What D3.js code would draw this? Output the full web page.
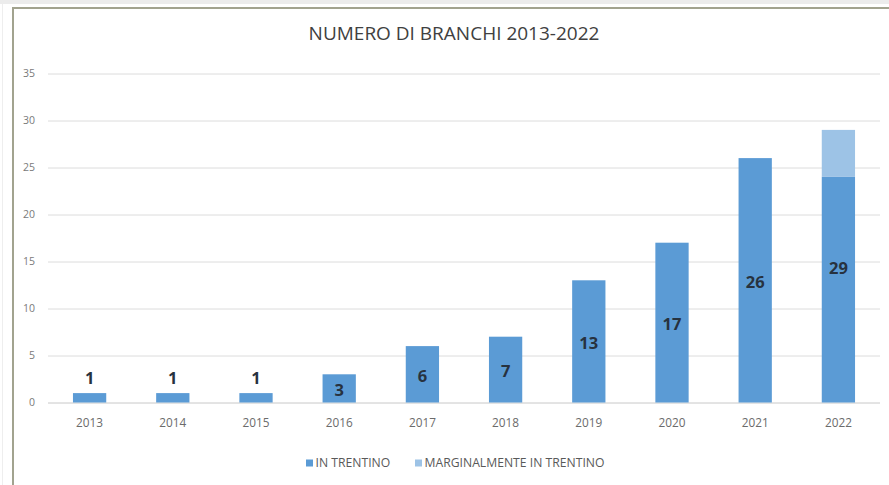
<!DOCTYPE html>
<html>
<head>
<meta charset="utf-8">
<script src="https://cdn.jsdelivr.net/npm/d3@7"></script>
<style>
  html, body { margin: 0; padding: 0; background: #ffffff; }
  svg { display: block; }
</style>
</head>
<body>
<script>
// Wolf packs per year, split by where the pack lives
const years = ["2013","2014","2015","2016","2017","2018","2019","2020","2021","2022"];
const inTrentino = [1, 1, 1, 3, 6, 7, 13, 17, 26, 24];
const marginal   = [0, 0, 0, 0, 0, 0, 0, 0, 0, 5];
const totals     = [1, 1, 1, 3, 6, 7, 13, 17, 26, 29];
const yTicks = [0, 5, 10, 15, 20, 25, 30, 35];
const seriesNames = ["IN TRENTINO", "MARGINALMENTE IN TRENTINO"];
const seriesColors = ["#5b9bd5", "#9dc3e6"];

const W = 889, H = 485;
const svg = d3.select("body").append("svg").attr("width", W).attr("height", H);

// page strip and chart frame
svg.append("rect").attr("x", 0).attr("y", 0).attr("width", W).attr("height", 4).attr("fill", "#ececec");
svg.append("line").attr("x1", 2.5).attr("x2", 2.5).attr("y1", 4).attr("y2", H).attr("stroke", "#eeeeee");
svg.append("rect").attr("x", 13).attr("y", 8).attr("width", W + 20).attr("height", H + 20)
  .attr("fill", "#ffffff").attr("stroke", "#a2a38f").attr("stroke-width", 2);

const plot = { left: 48, right: 880, top: 73.5, bottom: 402.5 };

const x = d3.scaleBand().domain(years).range([plot.left, plot.right]).paddingInner(0.6).paddingOuter(0.3);
const y = d3.scaleLinear().domain([0, 35]).range([plot.bottom, plot.top]);

// title
svg.append("text").attr("x", 454).attr("y", 39.5).attr("text-anchor", "middle")
  .attr("font-family", "Open Sans").attr("font-size", 19).attr("fill", "#404040")
  .text("NUMERO DI BRANCHI 2013-2022");

// gridlines
const yAxis = d3.axisLeft(y).tickValues(yTicks).tickSize(-(plot.right - plot.left)).tickPadding(13).tickFormat(d3.format("d"));
const gy = svg.append("g").attr("transform", `translate(${plot.left},0)`).call(yAxis);
gy.select(".domain").remove();
gy.selectAll(".tick line").attr("stroke-width", 1)
  .attr("stroke", d => d === 0 ? "#c8c8c8" : "#dcdcdc");
gy.selectAll(".tick text").attr("font-family", "Open Sans").attr("font-size", 10.5).attr("fill", "#7a7a7a");

// stacked bars
const stackData = years.map((yr, i) => ({ year: yr, a: inTrentino[i], b: marginal[i] }));
const stacked = d3.stack().keys(["a", "b"])(stackData);
svg.append("g").selectAll("g").data(stacked).join("g")
  .attr("fill", (d, i) => seriesColors[i])
  .selectAll("rect").data(d => d.filter(p => p[1] > p[0])).join("rect")
  .attr("x", p => x(p.data.year))
  .attr("width", x.bandwidth())
  .attr("y", p => y(p[1]))
  .attr("height", p => y(p[0]) - y(p[1]));

// x axis labels
const xAxis = d3.axisBottom(x).tickSize(0).tickPadding(16);
const gx = svg.append("g").attr("transform", `translate(0,${plot.bottom})`).call(xAxis);
gx.select(".domain").remove();
gx.selectAll(".tick text").attr("font-family", "Open Sans").attr("font-size", 11.8).attr("fill", "#6b6b6b");

// value labels: centred in the bar, above it when the bar is too short
svg.append("g").selectAll("text").data(years).join("text")
  .attr("x", (d) => x(d) + x.bandwidth() / 2)
  .attr("y", (d, i) => {
    const top = y(totals[i]);
    const h = plot.bottom - top;
    return h < 20 ? top - 15 : (top + plot.bottom) / 2 + 2;
  })
  .attr("dy", "0.35em")
  .attr("text-anchor", "middle")
  .attr("font-family", "Open Sans").attr("font-weight", "bold").attr("font-size", 16.5)
  .attr("fill", "#27323f")
  .text((d, i) => totals[i]);

// legend
const legend = svg.append("g").attr("transform", "translate(0,463)");
const legendX = [306, 415];
seriesNames.forEach((name, i) => {
  legend.append("rect").attr("x", legendX[i]).attr("y", -3.5).attr("width", 7).attr("height", 7).attr("fill", seriesColors[i]);
  legend.append("text").attr("x", legendX[i] + 9.5).attr("y", 0).attr("dy", "0.35em")
    .attr("font-family", "Open Sans").attr("font-size", 12.2).attr("fill", "#595959").text(name);
});
</script>
</body>
</html>
